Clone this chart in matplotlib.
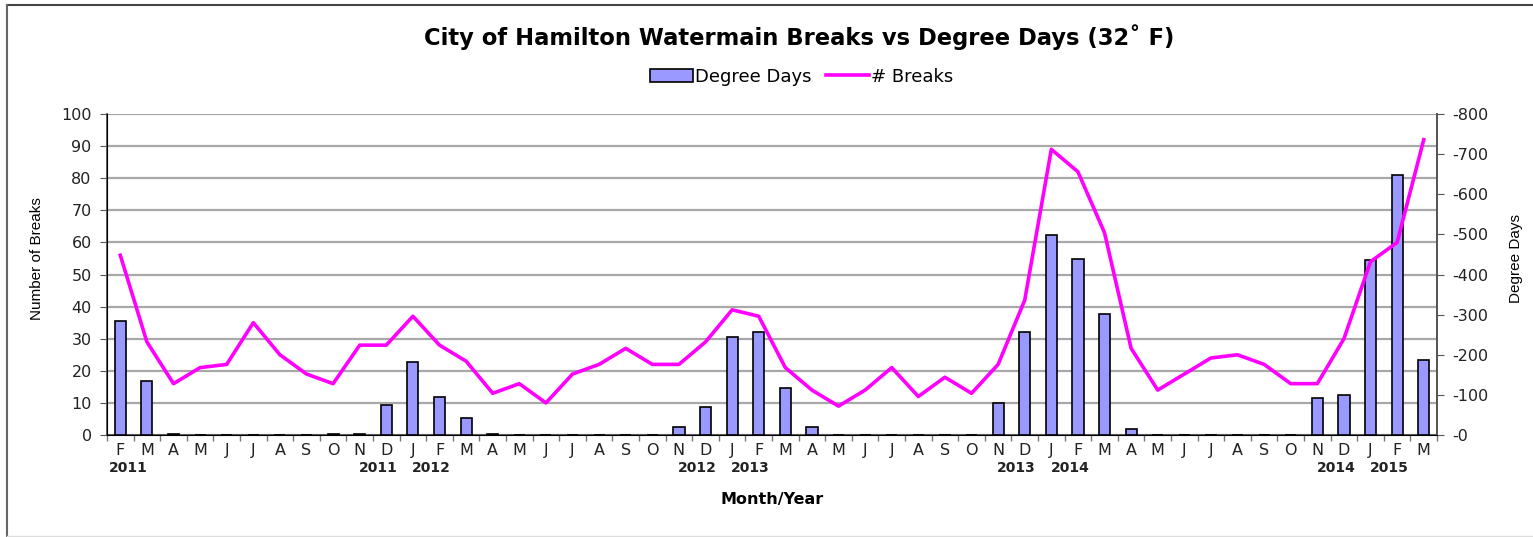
import matplotlib
matplotlib.use("Agg")
import matplotlib.pyplot as plt
from matplotlib.ticker import FuncFormatter, MultipleLocator
from matplotlib.transforms import blended_transform_factory
from matplotlib.lines import Line2D

# months Feb 2011 .. Mar 2015
months = "F M A M J J A S O N D J F M A M J J A S O N D J F M A M J J A S O N D J F M A M J J A S O N D J F M".split()

# number of watermain breaks per month
breaks = [56, 29, 16, 21, 22, 35, 25, 19, 16, 28, 28,
          37, 28, 23, 13, 16, 10, 19, 22, 27, 22, 22, 29,
          39, 37, 21, 14, 9, 14, 21, 12, 18, 13, 22, 42,
          89, 82, 63, 27, 14, 19, 24, 25, 22, 16, 16, 30,
          54, 60, 92]

# degree days below 32F (negative)
degree_days = [-284, -135, -3, 0, 0, 0, 0, 0, -3, -3, -76,
               -181, -95, -43, -3, 0, 0, 0, 0, 0, 0, -20, -71,
               -245, -256, -116, -20, 0, 0, 0, 0, 0, 0, -81, -256,
               -498, -438, -302, -14, 0, 0, 0, 0, 0, 0, -93, -100,
               -437, -649, -187]

# year labels under the month letters (index of month, text)
year_labels = [(0, "2011"), (10, "2011"), (11, "2012"), (22, "2012"), (23, "2013"),
               (34, "2013"), (35, "2014"), (46, "2014"), (47, "2015")]

fig = plt.figure(figsize=(15.33, 5.37), dpi=100)
ax = fig.add_axes([0.0698, 0.1899, 0.8676, 0.5978])
ax2 = ax.twinx()

x = list(range(len(months)))

# left axis: breaks, grid
ax.set_ylim(0, 100)
ax.set_xlim(-0.5, len(months) - 0.5)
ax.yaxis.set_major_locator(MultipleLocator(10))
ax.grid(axis="y", color="#a8a8a8", linewidth=1.6)
ax.set_axisbelow(True)
ax.set_xticks(x)
ax.set_xticklabels(months, fontsize=11.5, family="DejaVu Sans", color="#222222")
ax.set_xticks([i - 0.5 for i in range(len(months) + 1)], minor=True)
ax.tick_params(axis="x", which="major", length=0, pad=6)
ax.tick_params(axis="x", which="minor", length=4, color="#777777", width=1)
ax.tick_params(axis="y", length=5, color="#555555", labelsize=11.5, labelcolor="#222222", pad=6)
for lab in ax.get_yticklabels():
    lab.set_family("DejaVu Sans")
ax.set_ylabel("Number of Breaks", fontsize=11, family=["Liberation Sans Narrow", "Liberation Sans"])
ax.yaxis.set_label_coords(-0.047, 0.55)
ax.set_xlabel("Month/Year", fontsize=11.5, fontweight="bold", family="DejaVu Sans", labelpad=24)
ax.spines["top"].set_visible(False)
for s in ["left", "bottom", "right"]:
    ax.spines[s].set_color("#555555")
    ax.spines[s].set_linewidth(1.3)

# right axis: degree days (inverted)
bars = ax2.bar(x, degree_days, width=0.42, color="#9999ff", edgecolor="black", linewidth=1.2,
               label="Degree Days", zorder=2)
line, = ax2.plot(x, breaks, color="#ff00ff", linewidth=2.6, transform=ax.transData,
                 label="# Breaks", zorder=3)
ax2.set_ylim(0, -800)
ax2.yaxis.set_major_locator(MultipleLocator(100))
ax2.yaxis.set_major_formatter(FuncFormatter(lambda v, p: "-%d" % abs(round(v))))
ax2.tick_params(axis="y", length=5, color="#555555", labelsize=11.5, labelcolor="#222222", pad=6)
for lab in ax2.get_yticklabels():
    lab.set_family("DejaVu Sans")
ax2.set_ylabel("Degree Days", fontsize=11, family=["Liberation Sans Narrow", "Liberation Sans"],
               rotation=90)
ax2.yaxis.set_label_coords(1.054, 0.55)
ax2.spines["top"].set_visible(False)
ax2.spines["right"].set_color("#555555")
ax2.spines["right"].set_linewidth(1.3)
ax2.set_xlim(-0.5, len(months) - 0.5)

# year labels
trans = blended_transform_factory(ax.transData, ax.transAxes)
for idx, yr in year_labels:
    m = months[idx]
    off = 0.3 if idx == 0 else (-0.3 if m == "D" else 0.7)
    ax.text(idx + off, -0.103, yr, transform=trans, ha="center", va="center",
            fontsize=10, fontweight="bold", family="DejaVu Sans", color="#222222")

fig.suptitle("City of Hamilton Watermain Breaks vs Degree Days (32\u02da F)", x=0.521,
             y=1 - 37 / 537, va="center", fontsize=16.3, fontweight="bold", family="DejaVu Sans")

leg = fig.legend(handles=[bars, line], labels=["Degree Days", "# Breaks"], loc="center",
                 bbox_to_anchor=(0.523, 0.857), ncol=2, frameon=False,
                 handlelength=2.4, handletextpad=0.1, columnspacing=0.8,
                 prop={"family": "DejaVu Sans", "size": 13})

# thin frame around the chart
fig.add_artist(Line2D([6.5 / 1533, 1.0], [1 - 4.5 / 537] * 2, transform=fig.transFigure,
                      color="#444444", linewidth=1.5))
fig.add_artist(Line2D([6.5 / 1533] * 2, [0.0, 1 - 4.5 / 537], transform=fig.transFigure,
                      color="#666666", linewidth=1.5))
fig.add_artist(Line2D([6.5 / 1533, 1.0], [1.5 / 537] * 2, transform=fig.transFigure,
                      color="#dddddd", linewidth=1.0))

fig.savefig("out.png", dpi=100)
